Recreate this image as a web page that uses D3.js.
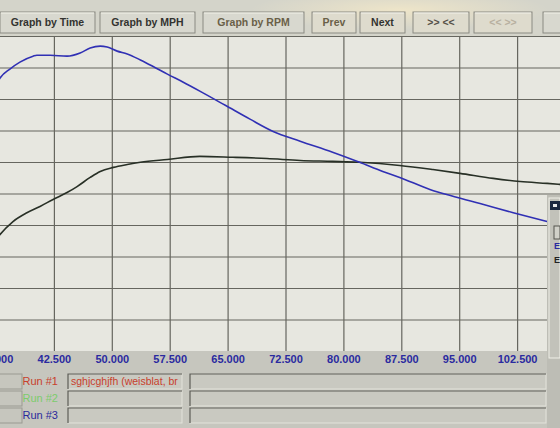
<!DOCTYPE html>
<html>
<head>
<meta charset="utf-8">
<script src="https://cdn.jsdelivr.net/npm/d3@7"></script>
<style>
  body { margin: 0; background: #d6d6ce; overflow: hidden; }
  svg { display: block; font-family: "Liberation Sans", Arial, sans-serif; }
</style>
</head>
<body>
<div id="chart"></div>
<script>
// --- data ---
var buttonLabels = ["Graph by Time", "Graph by MPH", "Graph by RPM", "Prev", "Next", ">> <<", "<< >>", "<-"];
var xTicks = [35, 42.5, 50, 57.5, 65, 72.5, 80, 87.5, 95, 102.5];
var yTicks = [0, 10, 20, 30, 40, 50, 60, 70, 80, 90, 100];

// blue trace (power)
var blueMph = [35.0, 35.5, 36.8, 38.1, 39.8, 40.3, 42.0, 44.2, 45.9, 47.2, 48.5, 49.4, 50.7, 52.0, 53.7, 55.3, 57.2, 59.2, 61.4, 64.7, 67.9, 70.9, 74.4, 78.6, 82.1, 85.1, 87.3, 91.2, 94.4, 97.7, 102.0, 106.4];
var blueVal = [84.5, 86.6, 89.5, 91.7, 93.6, 93.9, 93.9, 93.6, 94.6, 96.2, 96.8, 96.5, 95.2, 94.3, 92.4, 90.4, 87.9, 85.4, 82.5, 78.0, 73.6, 69.7, 66.6, 63.1, 59.9, 57.0, 55.1, 51.3, 49.0, 46.8, 43.9, 41.1];

// black trace (torque)
var blackMph = [35.0, 35.5, 37.2, 39.0, 40.7, 42.4, 44.2, 45.5, 47.2, 48.5, 50.2, 52.0, 53.7, 57.2, 61.4, 65.7, 70.1, 74.4, 78.6, 82.1, 87.3, 91.6, 95.1, 99.4, 102.9, 106.4, 108.0, 110.0];
var blackVal = [35.3, 36.9, 41.1, 43.9, 45.9, 48.1, 50.3, 52.2, 55.1, 57.0, 58.3, 59.2, 59.9, 60.8, 61.8, 61.5, 61.1, 60.5, 60.2, 59.9, 58.9, 57.6, 56.4, 54.8, 53.8, 53.2, 52.9, 52.5];

var runLabels = ["Run #1", "Run #2", "Run #3"];
var runColors = ["#c8402c", "#7ccc6c", "#2a2a9c"];
var runNames = ["sghjcghjfh (weisblat, br", "", ""];

// --- layout ---
var W = 560, H = 428;
var plot = { left: -4, right: 575, top: 36, bottom: 351 };
var btnX = [[0, 95], [100, 195], [203, 304], [312, 356], [360, 405], [413, 469], [474, 532], [543, 600]];

var svg = d3.select("#chart").append("svg")
  .attr("width", W).attr("height", H);

var defs = svg.append("defs");
var glare = defs.append("radialGradient").attr("id", "glare")
  .attr("cx", "0.5").attr("cy", "0.5").attr("r", "0.5");
glare.append("stop").attr("offset", "0%").attr("stop-color", "#fff0c8").attr("stop-opacity", 0.6);
glare.append("stop").attr("offset", "100%").attr("stop-color", "#fff0c8").attr("stop-opacity", 0);
defs.append("clipPath").attr("id", "plotclip")
  .append("rect").attr("x", 0).attr("y", plot.top).attr("width", W).attr("height", plot.bottom - plot.top);

// top toolbar
svg.append("rect").attr("x", 0).attr("y", 0).attr("width", W).attr("height", 36).attr("fill", "#d4d4ca");

// screen glare from the photo (behind the button text)
svg.append("ellipse").attr("cx", 400).attr("cy", 10).attr("rx", 150).attr("ry", 20)
  .attr("fill", "url(#glare)");

var btn = svg.selectAll("g.btn").data(buttonLabels).enter().append("g").attr("class", "btn");
btn.append("rect")
  .attr("x", function(d, i) { return btnX[i][0]; })
  .attr("y", 12)
  .attr("width", function(d, i) { return btnX[i][1] - btnX[i][0]; })
  .attr("height", 21)
  .attr("fill", function(d, i) { return i >= 3 && i <= 6 ? "#dedbcd" : "#d8d8cf"; })
  .attr("stroke", "#8a8a82").attr("stroke-width", 1);
btn.append("line")
  .attr("x1", function(d, i) { return btnX[i][0] + 1; })
  .attr("x2", function(d, i) { return btnX[i][1] - 1; })
  .attr("y1", 13).attr("y2", 13)
  .attr("stroke", "#f2f2ea");
btn.append("text")
  .attr("x", function(d, i) { return (btnX[i][0] + btnX[i][1]) / 2; })
  .attr("y", 26)
  .attr("text-anchor", "middle")
  .attr("font-size", "10.5px").attr("font-weight", "bold")
  .attr("fill", function(d, i) {
    if (i == 6) return "#b8b0a0";
    if (i == 2 || i == 3) return "#6a6048";
    if (i == 5) return "#555048";
    return "#333330";
  })
  .text(function(d) { return d; });

// plot area
svg.append("rect").attr("x", 0).attr("y", plot.top).attr("width", W).attr("height", plot.bottom - plot.top)
  .attr("fill", "#e7e7e0");

var x = d3.scaleLinear().domain([35, 110]).range([plot.left, plot.right]);
var y = d3.scaleLinear().domain([0, 100]).range([plot.bottom, plot.top]);

var gGrid = svg.append("g").attr("clip-path", "url(#plotclip)");
gGrid.append("g")
  .attr("transform", "translate(0," + plot.bottom + ")")
  .call(d3.axisBottom(x).tickValues(xTicks).tickFormat("").tickSize(-(plot.bottom - plot.top)))
  .call(function(g) { g.select(".domain").remove(); })
  .selectAll("line").attr("stroke", "#66665f").attr("stroke-width", 1.2);
gGrid.append("g")
  .call(d3.axisLeft(y).tickValues(yTicks).tickFormat("").tickSize(-W))
  .call(function(g) { g.select(".domain").remove(); })
  .selectAll("line").attr("stroke", "#66665f").attr("stroke-width", 1.2);

var line = d3.line()
  .x(function(d) { return x(d[0]); })
  .y(function(d) { return y(d[1]); })
  .curve(d3.curveMonotoneX);

gGrid.append("path")
  .datum(d3.zip(blackMph, blackVal))
  .attr("d", line)
  .attr("fill", "none").attr("stroke", "#283026").attr("stroke-width", 1.6);
gGrid.append("path")
  .datum(d3.zip(blueMph, blueVal))
  .attr("d", line)
  .attr("fill", "none").attr("stroke", "#3030b4").attr("stroke-width", 1.6);

// axis label strip
svg.append("rect").attr("x", 0).attr("y", plot.bottom).attr("width", W).attr("height", H - plot.bottom)
  .attr("fill", "#c6c6be");
svg.append("rect").attr("x", 547).attr("y", 195).attr("width", 13).attr("height", H - 195)
  .attr("fill", "#bdbdb5");

var xAxis = svg.append("g")
  .attr("transform", "translate(0," + plot.bottom + ")")
  .call(d3.axisBottom(x).tickValues(xTicks).tickSize(0).tickPadding(4)
    .tickFormat(function(d) { return d3.format(".3f")(d); }));
xAxis.select(".domain").remove();
xAxis.selectAll("text")
  .attr("font-family", "Liberation Sans, Arial, sans-serif")
  .attr("font-size", "11px").attr("font-weight", "bold")
  .attr("fill", "#2a2aa0");

// run rows
var rowY = [374, 391, 408];
var rows = svg.selectAll("g.run").data(runLabels).enter().append("g").attr("class", "run");
rows.append("rect").attr("x", -40).attr("y", function(d, i) { return rowY[i]; })
  .attr("width", 62).attr("height", 15).attr("fill", "#c6c6be").attr("stroke", "#9a9a92");
rows.append("text")
  .attr("x", 58).attr("y", function(d, i) { return rowY[i] + 11; })
  .attr("text-anchor", "end").attr("font-size", "11px")
  .attr("fill", function(d, i) { return runColors[i]; })
  .text(function(d) { return d; });
[[68, 182], [190, 546]].forEach(function(c) {
  rows.append("rect").attr("x", c[0]).attr("y", function(d, i) { return rowY[i]; })
    .attr("width", c[1] - c[0]).attr("height", 15)
    .attr("fill", "#c9c9c1").attr("stroke", "#e2e2da");
  rows.append("path")
    .attr("d", function(d, i) { return "M" + c[0] + "," + (rowY[i] + 15) + "V" + rowY[i] + "H" + c[1]; })
    .attr("fill", "none").attr("stroke", "#55554f").attr("stroke-width", 1.2);
});
rows.append("text")
  .attr("x", 71).attr("y", function(d, i) { return rowY[i] + 11; })
  .attr("font-size", "10.5px")
  .attr("fill", function(d, i) { return runColors[i]; })
  .text(function(d, i) { return runNames[i]; });

// partial dialog on the right edge
var dlg = svg.append("g");
dlg.append("rect").attr("x", 549).attr("y", 198).attr("width", 11).attr("height", 160).attr("fill", "#c2c2ba")
  .attr("stroke", "#f0f0e8");
dlg.append("rect").attr("x", 550).attr("y", 201).attr("width", 10).attr("height", 9).attr("fill", "#1c2840");
dlg.append("rect").attr("x", 553).attr("y", 204).attr("width", 4).attr("height", 3).attr("fill", "#e8e8e8");
dlg.append("rect").attr("x", 554).attr("y", 226).attr("width", 6).attr("height", 13).attr("fill", "#d0d0c8").attr("stroke", "#55554f");
dlg.append("text").attr("x", 554).attr("y", 249).attr("font-size", "9px").attr("font-weight", "bold").attr("fill", "#2a2aa0").text("E");
dlg.append("text").attr("x", 554).attr("y", 263).attr("font-size", "9px").attr("font-weight", "bold").attr("fill", "#222").text("E");
</script>
</body>
</html>
